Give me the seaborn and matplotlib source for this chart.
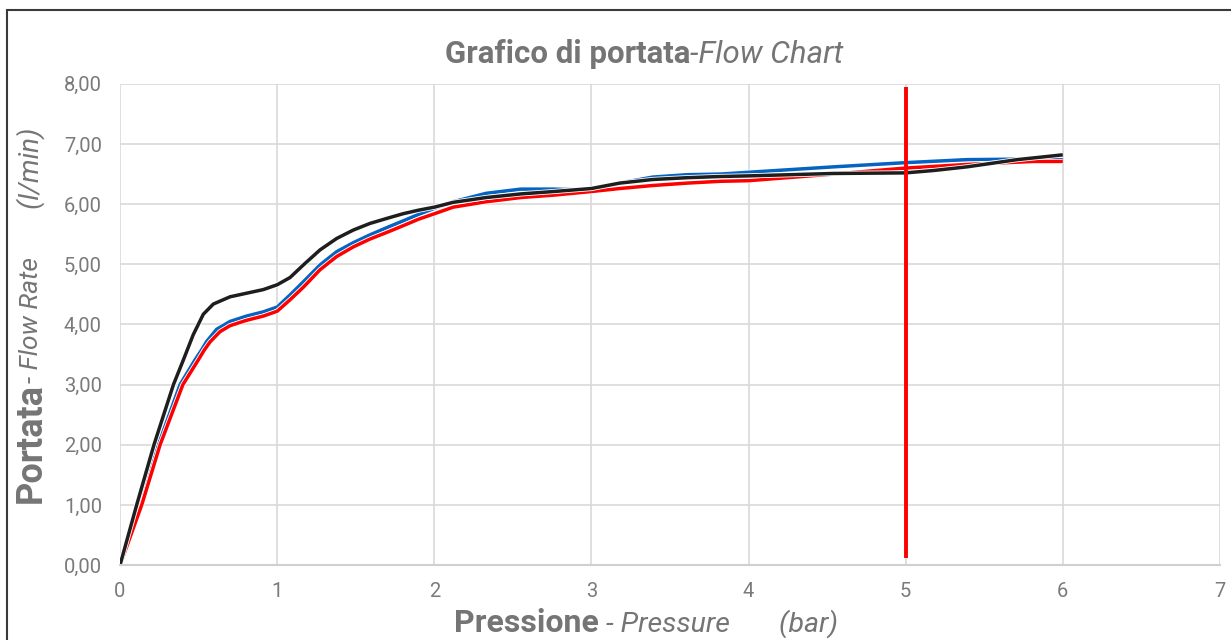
import seaborn as sns
import pandas as pd
import matplotlib.pyplot as plt
import matplotlib.patheffects as pe
from matplotlib.patches import Rectangle
from matplotlib.transforms import IdentityTransform

# Valori (pressione in bar, portata in l/min)
blu_x = [0, 0.132, 0.244, 0.382, 0.477, 0.52, 0.552, 0.615, 0.70, 0.806, 0.912, 1.0, 1.082, 1.167, 1.273,
         1.379, 1.485, 1.591, 1.707, 1.80, 1.90, 2.0, 2.12, 2.33, 2.55, 2.76, 2.9, 3.0, 3.18, 3.39, 3.61,
         3.82, 4.0, 4.54, 5.0, 5.39, 5.81, 6.0]
blu_y = [0, 1, 2, 3, 3.41, 3.58, 3.72, 3.92, 4.05, 4.14, 4.21, 4.29, 4.49, 4.71, 4.99,
         5.21, 5.36, 5.49, 5.62, 5.72, 5.83, 5.93, 6.04, 6.18, 6.25, 6.25, 6.24, 6.25, 6.35, 6.45, 6.49,
         6.50, 6.53, 6.62, 6.69, 6.74, 6.75, 6.74]
rosso_x = [0, 0.138, 0.255, 0.40, 0.498, 0.535, 0.573, 0.636, 0.70, 0.806, 0.912, 1.0, 1.082, 1.167, 1.273,
           1.379, 1.485, 1.591, 1.707, 1.80, 1.90, 2.0, 2.12, 2.33, 2.55, 2.76, 3.0, 3.18, 3.39, 3.61,
           3.82, 4.0, 4.54, 5.0, 5.39, 5.81, 6.0]
rosso_y = [0, 1, 2, 3, 3.41, 3.57, 3.71, 3.88, 3.98, 4.07, 4.14, 4.22, 4.41, 4.62, 4.91,
           5.13, 5.29, 5.42, 5.54, 5.64, 5.75, 5.84, 5.95, 6.04, 6.11, 6.15, 6.21, 6.26, 6.31, 6.35,
           6.38, 6.39, 6.50, 6.60, 6.66, 6.71, 6.71]
nero_x = [0, 0.106, 0.216, 0.34, 0.403, 0.466, 0.53, 0.594, 0.70, 0.806, 0.912, 1.0, 1.082, 1.167, 1.273,
          1.379, 1.485, 1.591, 1.707, 1.80, 1.90, 2.0, 2.12, 2.33, 2.55, 2.76, 3.0, 3.18, 3.39, 3.61,
          3.82, 4.0, 4.54, 5.0, 5.18, 5.39, 5.71, 6.0]
nero_y = [0, 1, 2, 3, 3.41, 3.83, 4.17, 4.34, 4.46, 4.52, 4.58, 4.66, 4.78, 4.99, 5.24,
          5.43, 5.57, 5.68, 5.77, 5.84, 5.90, 5.95, 6.03, 6.11, 6.17, 6.21, 6.26, 6.35, 6.41, 6.44,
          6.46, 6.47, 6.51, 6.52, 6.56, 6.62, 6.74, 6.82]
linea_x = 5
linea_y = [0.12, 7.95]

x_ticks = [0, 1, 2, 3, 4, 5, 6, 7]
y_ticks = [0, 1, 2, 3, 4, 5, 6, 7, 8]

df = pd.concat([
    pd.DataFrame({'x': blu_x, 'y': blu_y, 'serie': 'blu'}),
    pd.DataFrame({'x': rosso_x, 'y': rosso_y, 'serie': 'rosso'}),
    pd.DataFrame({'x': nero_x, 'y': nero_y, 'serie': 'nero'}),
])

sns.set_style('white')
plt.rcParams['font.family'] = ['Roboto', 'DejaVu Sans']
grigio = '#757575'

fig = plt.figure(figsize=(12.31, 6.4), dpi=100)
ax = fig.add_axes([0.0975, 0.117, 0.8935, 0.752])

palette = {'blu': '#0563C1', 'rosso': '#FF0000', 'nero': '#1E1E1E'}
sns.lineplot(data=df, x='x', y='y', hue='serie', palette=palette, sort=False,
             linewidth=2.5, legend=False, ax=ax)
for ln in ax.get_lines():
    ln.set_path_effects([pe.Stroke(linewidth=3.7, foreground='white'), pe.Normal()])
    ln.set_solid_joinstyle('round')
    ln.set_solid_capstyle('butt')

ax.vlines(linea_x, linea_y[0], linea_y[1], color='#FF0000', linewidth=2.8, zorder=5)

ax.set_xlim(0, 7)
ax.set_ylim(0, 8)
ax.set_xticks(x_ticks)
ax.set_yticks(y_ticks)
ax.set_xticklabels([str(t) for t in x_ticks])
ax.set_yticklabels([f'{t:.2f}'.replace('.', ',') for t in y_ticks])
ax.tick_params(axis='both', length=0, labelsize=14.5, labelcolor='#7A7A7A')
ax.tick_params(axis='y', pad=13)
ax.tick_params(axis='x', pad=12)
ax.grid(True, color='#D9D9D9', linewidth=1.2)
for s in ['top', 'right', 'left']:
    ax.spines[s].set_visible(False)
ax.spines['bottom'].set_color('#D0D0D0')
ax.spines['bottom'].set_linewidth(1.5)
ax.set_xlabel('')
ax.set_ylabel('')

# Bordo del riquadro
fig.patches.append(Rectangle((7 / 1231, -0.05), 1.1, 1.05 - 10 / 640,
                             transform=fig.transFigure, fill=False,
                             edgecolor='#3A3A3A', linewidth=1.5))

fig.canvas.draw()
r = fig.canvas.get_renderer()


def testo_misto(parti, cx, cy, verticale=False):
    # piazza pezzi di testo con stili diversi uno dopo l'altro, centrati in (cx, cy) pixel
    oggetti = []
    for txt, kw in parti:
        t = fig.text(0, 0, txt, transform=IdentityTransform(), color=grigio,
                     rotation=90 if verticale else 0, ha='left', va='baseline', **kw)
        oggetti.append(t)
    misure = [t.get_window_extent(r) for t in oggetti]
    tot = sum(m.height if verticale else m.width for m in misure)
    pos = (cy if verticale else cx) - tot / 2
    for t, m in zip(oggetti, misure):
        if verticale:
            t.set_position((cx, pos))
            t.set_va('bottom')
            t.set_ha('center')
            pos += m.height
        else:
            t.set_position((pos, cy))
            pos += m.width


testo_misto([('Grafico di portata', dict(fontsize=22.5, fontweight='bold')),
             ('-Flow Chart', dict(fontsize=22.5, style='italic'))], 644, 640 - 63)
testo_misto([('Pressione', dict(fontsize=23, fontweight='bold')),
             (' - Pressure', dict(fontsize=20.5, style='italic')),
             ('       (bar)', dict(fontsize=20.5, style='italic'))], 646, 640 - 632)
testo_misto([('Portata', dict(fontsize=26, fontweight='bold')),
             ('- Flow Rate', dict(fontsize=19, style='italic')),
             ('       (l/min)', dict(fontsize=20, style='italic'))], 31, 640 - 315, verticale=True)

plt.savefig('out.png', dpi=100)
